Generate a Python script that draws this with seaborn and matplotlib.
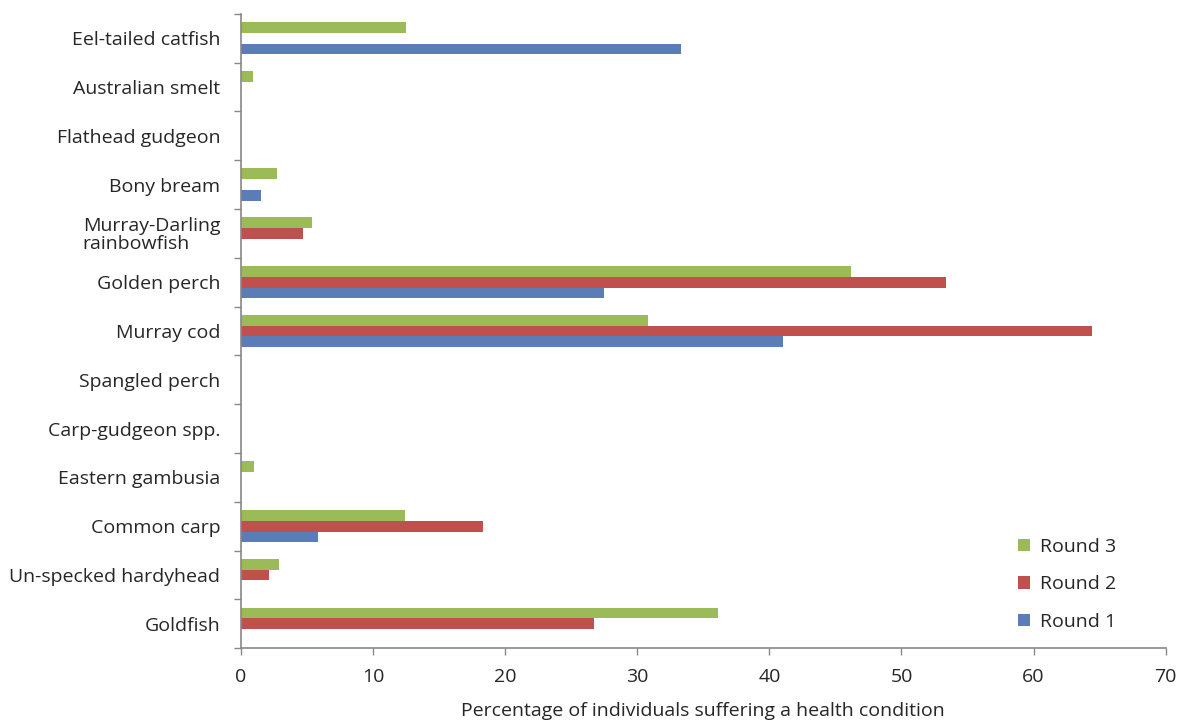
import numpy as np
import pandas as pd
import matplotlib
matplotlib.use("Agg")
import matplotlib.pyplot as plt
import seaborn as sns

sns.set_style("white")
plt.rcParams['font.family'] = ['Open Sans', 'DejaVu Sans']

# Data
species = ["Eel-tailed catfish", "Australian smelt", "Flathead gudgeon", "Bony bream",
           "Murray-Darling\nrainbowfish", "Golden perch", "Murray cod", "Spangled perch",
           "Carp-gudgeon spp.", "Eastern gambusia", "Common carp", "Un-specked hardyhead",
           "Goldfish"]
round3 = [12.5, 0.9, 0.0, 2.7, 5.4, 46.2, 30.8, 0.0, 0.0, 1.0, 12.4, 2.9, 36.1]
round2 = [0.0, 0.0, 0.0, 0.0, 4.7, 53.4, 64.4, 0.0, 0.0, 0.0, 18.3, 2.1, 26.7]
round1 = [33.3, 0.0, 0.0, 1.5, 0.0, 27.5, 41.0, 0.0, 0.0, 0.0, 5.8, 0.0, 0.0]
rounds = ["Round 3", "Round 2", "Round 1"]
colors = {"Round 3": "#9BBB59", "Round 2": "#C0504D", "Round 1": "#5A7DB8"}

df = pd.DataFrame({"species": species * 3,
                   "round": np.repeat(rounds, len(species)),
                   "pct": round3 + round2 + round1})

fig, ax = plt.subplots(figsize=(11.87, 7.25), dpi=100)
fig.subplots_adjust(left=0.203, right=0.982, top=0.981, bottom=0.106)

sns.barplot(data=df, y="species", x="pct", hue="round", hue_order=rounds,
            order=species, palette=colors, orient="h", width=0.66,
            linewidth=0, saturation=1, ax=ax)

ax.set_xlim(0, 70)
ax.set_xticks(range(0, 71, 10))
ax.set_ylim(len(species) - 0.5, -0.5)

# category labels without ticks, tick marks between categories
ax.set_yticks(range(len(species)))
ax.set_yticklabels(species, multialignment="left", linespacing=1.0)
ax.set_yticks(np.arange(-0.5, len(species), 1), minor=True)
ax.tick_params(axis="y", which="major", length=0, pad=15, labelsize=14, labelcolor="#262626")
ax.tick_params(axis="y", which="minor", left=True, length=5, width=1, color="#888888")
ax.tick_params(axis="x", bottom=True, length=5, width=1, color="#888888",
               labelsize=14, labelcolor="#262626", pad=9)

ax.set_ylabel("")
ax.set_xlabel("Percentage of individuals suffering a health condition",
              fontsize=14, color="#262626", labelpad=12)

sns.despine(ax=ax)
for s in ["left", "bottom"]:
    ax.spines[s].set_color("#888888")
    ax.spines[s].set_linewidth(1.2)

ax.legend(loc="lower right", bbox_to_anchor=(0.965, 0.0), frameon=False,
          fontsize=14, handlelength=0.6, handleheight=0.6, labelspacing=1.0,
          handletextpad=0.5, labelcolor="#262626")

fig.savefig("out.png", dpi=100)
